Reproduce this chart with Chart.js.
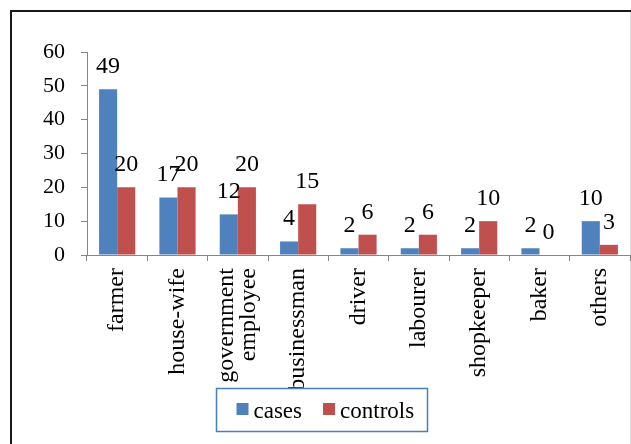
<!DOCTYPE html>
<html>
<head>
<meta charset="utf-8">
<script src="https://cdn.jsdelivr.net/npm/chart.js@4"></script>
<style>
    html, body { margin: 0; padding: 0; background: #fff; }
</style>
</head>
<body>
<canvas id="occupationChart" width="631" height="444"></canvas>
<script>
// data
const categories = ['farmer', 'house-wife', ['government', 'employee'], 'businessman', 'driver', 'labourer', 'shopkeeper', 'baker', 'others'];
const cases = [49, 17, 12, 4, 2, 2, 2, 2, 10];
const controls = [20, 20, 20, 15, 6, 6, 10, 0, 3];
const yTicks = [0, 10, 20, 30, 40, 50, 60];
const seriesNames = ['cases', 'controls'];
const seriesColors = ['#4F81BD', '#C0504D'];

const serif = "'Liberation Serif'";
Chart.defaults.font.family = serif;

// outer frame like the word-processor chart box
const framePlugin = {
    id: 'frame',
    beforeDraw(chart) {
        const ctx = chart.ctx;
        ctx.save();
        ctx.fillStyle = '#fff';
        ctx.fillRect(0, 0, chart.width, chart.height);
        ctx.strokeStyle = '#1a1a1a';
        ctx.lineWidth = 2;
        ctx.beginPath();
        ctx.moveTo(11, chart.height);
        ctx.lineTo(11, 11);
        ctx.lineTo(chart.width, 11);
        ctx.stroke();
        ctx.strokeStyle = '#dedede';
        ctx.lineWidth = 1;
        ctx.beginPath();
        ctx.moveTo(630.5, 12);
        ctx.lineTo(630.5, chart.height);
        ctx.stroke();
        ctx.restore();
    }
};

// value labels above each bar
const valueLabels = {
    id: 'valueLabels',
    afterDatasetsDraw(chart) {
        const ctx = chart.ctx;
        ctx.save();
        ctx.font = '24px ' + serif;
        ctx.fillStyle = '#000';
        ctx.textAlign = 'center';
        ctx.textBaseline = 'alphabetic';
        chart.data.datasets.forEach((ds, i) => {
            chart.getDatasetMeta(i).data.forEach((bar, j) => {
                ctx.fillText(String(ds.data[j]), bar.x, bar.y - 16);
            });
        });
        ctx.restore();
    }
};

// rotated category names, multi-line ones centred on the tick
const xLabels = {
    id: 'xLabels',
    afterDraw(chart) {
        const ctx = chart.ctx;
        const xs = chart.scales.x;
        const gap = 22;
        ctx.save();
        ctx.font = '24px ' + serif;
        ctx.fillStyle = '#000';
        ctx.textAlign = 'right';
        ctx.textBaseline = 'middle';
        chart.data.labels.forEach((label, i) => {
            const lines = Array.isArray(label) ? label : [label];
            ctx.save();
            ctx.translate(xs.getPixelForValue(i), xs.top + 13);
            ctx.rotate(-Math.PI / 2);
            lines.forEach((line, k) => {
                ctx.fillText(line, 0, (k - (lines.length - 1) / 2) * gap);
            });
            ctx.restore();
        });
        ctx.restore();
    }
};

// boxed legend at the bottom
const boxLegend = {
    id: 'boxLegend',
    afterDraw(chart) {
        const ctx = chart.ctx;
        const left = 216.5, top = 388.5, w = 211, h = 43;
        ctx.save();
        ctx.fillStyle = '#fff';
        ctx.fillRect(left, top, w, h);
        ctx.strokeStyle = '#4a7ebb';
        ctx.lineWidth = 1.5;
        ctx.strokeRect(left, top, w, h);
        ctx.font = '23px ' + serif;
        ctx.textBaseline = 'alphabetic';
        let x = left + 20;
        chart.data.datasets.forEach(ds => {
            ctx.fillStyle = ds.backgroundColor;
            ctx.fillRect(x, 403, 12, 12);
            ctx.fillStyle = '#000';
            ctx.fillText(ds.label, x + 17, 418);
            x += 17 + ctx.measureText(ds.label).width + 21;
        });
        ctx.restore();
    }
};

const ctx = document.getElementById('occupationChart').getContext('2d');
new Chart(ctx, {
    type: 'bar',
    data: {
        labels: categories,
        datasets: [
            { label: seriesNames[0], data: cases, backgroundColor: seriesColors[0] },
            { label: seriesNames[1], data: controls, backgroundColor: seriesColors[1] }
        ]
    },
    options: {
        responsive: false,
        animation: false,
        devicePixelRatio: 1,
        categoryPercentage: 0.6,
        barPercentage: 1.0,
        layout: { padding: { top: 52, left: 0, right: 1, bottom: 0 } },
        plugins: {
            legend: { display: false },
            tooltip: { enabled: false },
            title: { display: false }
        },
        scales: {
            x: {
                offset: true,
                grid: { drawOnChartArea: false, drawTicks: true, tickLength: 6, color: '#868686', offset: true },
                border: { color: '#868686' },
                ticks: { display: false, autoSkip: false },
                afterFit: scale => { scale.height = 189; }
            },
            y: {
                min: yTicks[0],
                max: yTicks[yTicks.length - 1],
                ticks: {
                    stepSize: yTicks[1] - yTicks[0],
                    color: '#000',
                    font: { family: serif, size: 22 },
                    padding: 16
                },
                grid: { drawOnChartArea: false, tickLength: 6, color: '#868686' },
                border: { color: '#868686' },
                afterFit: scale => { scale.width = 87; }
            }
        }
    },
    plugins: [framePlugin, valueLabels, xLabels, boxLegend]
});
</script>
</body>
</html>
